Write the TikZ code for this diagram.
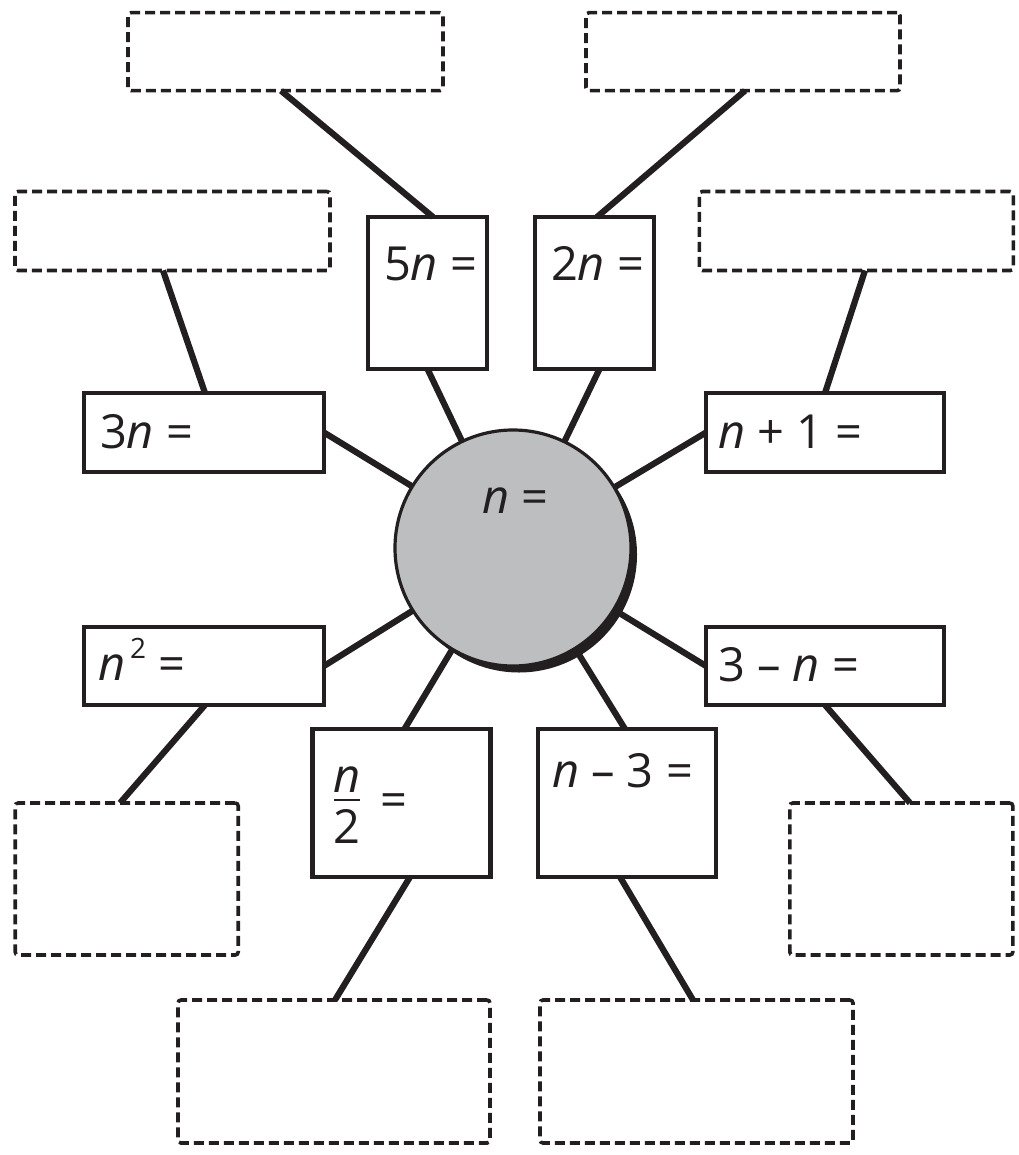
\documentclass[tikz,border=0pt]{standalone}
\usepackage{fontspec}
\setmainfont{Open Sans}
\usetikzlibrary{calc,shadows}
\definecolor{discgray}{HTML}{BCBEC0}
\definecolor{ink}{HTML}{231F20}
% fraction n over 2, baseline at the 2
\newcommand\nhalf{\vbox{\offinterlineskip
  \hbox to 26pt{\hss\textit{n}\hss}\kern6pt
  \hrule height 2.4pt\kern8pt
  \hbox to 26pt{\hss 2\hss}}}
\begin{document}
\begin{tikzpicture}[x=1pt,y=-1pt,
  every node/.style={inner sep=0pt,outer sep=0pt},
  solidbox/.style={draw=ink,line width=4.2pt,fill=white},
  dashbox/.style={draw=ink,line width=3.6pt,dash pattern=on 10pt off 5pt,rounded corners=3pt},
  link/.style={draw=ink,line width=6.2pt},
  lbl/.style={anchor=base west,text=ink,font=\fontsize{47}{56}\selectfont}]
\useasboundingbox (0,0) rectangle (1018,1155);

% outer answer boxes (dashed)
\node[dashbox,minimum width=315pt,minimum height=78pt] (dtl) at (285.5,51.7) {};
\node[dashbox,minimum width=314pt,minimum height=78pt] (dtr) at (743,51.7) {};
\node[dashbox,minimum width=315pt,minimum height=79pt] (dlt) at (172.5,231) {};
\node[dashbox,minimum width=314pt,minimum height=79pt] (drt) at (856.3,231) {};
\node[dashbox,minimum width=223pt,minimum height=152pt] (dll) at (126.7,879) {};
\node[dashbox,minimum width=223pt,minimum height=152pt] (dlr) at (901.3,879) {};
\node[dashbox,minimum width=312pt,minimum height=143pt] (dbl) at (334,1071.5) {};
\node[dashbox,minimum width=313pt,minimum height=143pt] (dbr) at (696.5,1071.5) {};

% central disc with its shadow
\node[circle,draw=ink,line width=3.2pt,fill=discgray,minimum size=236pt,
  drop shadow={shadow xshift=6pt,shadow yshift=-6.5pt,opacity=1,fill=ink}] (c) at (513,548) {};

% expression boxes
\node[solidbox,minimum width=119pt,minimum height=152pt] (b5) at (427.5,293) {};
\node[solidbox,minimum width=119pt,minimum height=152pt] (b2) at (594.5,293) {};
\node[solidbox,minimum width=240pt,minimum height=79pt] (b3) at (204,432.5) {};
\node[solidbox,minimum width=238pt,minimum height=79pt] (bp) at (825,432.5) {};
\node[solidbox,minimum width=240pt,minimum height=78pt] (bs) at (204,666) {};
\node[solidbox,minimum width=238pt,minimum height=78pt] (bm) at (825,666) {};
\node[solidbox,minimum width=178pt,minimum height=148pt] (bh) at (401.5,803) {};
\node[solidbox,minimum width=178pt,minimum height=148pt] (bt) at (627,803) {};

% connectors from the disc to the expression boxes
\draw[link] (b5.south) -- (c);
\draw[link] ($(b2.south)+(5,0)$) -- (c);
\draw[link] (b3.east) -- (c);
\draw[link] (bp.west) -- (c);
\draw[link] (bs.east) -- (c);
\draw[link] (bm.west) -- (c);
\draw[link] ($(bh.north)+(3,0)$) -- (c);
\draw[link] ($(bt.north)+(-2,0)$) -- (c);

% connectors from the expression boxes to the answer boxes
\draw[link] ($(dtl.south)+(-4.5,0)$) -- ($(b5.north)+(5.5,0)$);
\draw[link] ($(dtr.south)+(2,0)$) -- ($(b2.north)+(2.5,0)$);
\draw[link] ($(dlt.south)+(-9.5,0)$) -- ($(b3.north)+(1,0)$);
\draw[link] ($(drt.south)+(8.7,0)$) -- (bp.north);
\draw[link] ($(bs.south)+(1,0)$) -- ($(dll.north)+(-6.7,0)$);
\draw[link] (bm.south) -- ($(dlr.north)+(8.7,0)$);
\draw[link] ($(bh.south)+(8.5,0)$) -- ($(dbl.north)+(1,0)$);
\draw[link] ($(bt.south)+(-7,0)$) -- ($(dbr.north)+(-3.5,0)$);

% labels
\node[lbl] (tc) at (482,513) {\textit{n} =};
\node[lbl] (t5) at (384,280) {5\textit{n} =};
\node[lbl] (t2) at (551,280) {2\textit{n} =};
\node[lbl] (t3) at (100,448) {3\textit{n} =};
\node[lbl] (tp) at (718,448) {\textit{n} + 1 =};
\node[lbl] (ts) at (98,680) {\textit{n}\kern5pt\raisebox{22pt}{\fontsize{28}{34}\selectfont 2} =};
\node[lbl] (tm) at (718,681) {3 – \textit{n} =};
\node[lbl] (th) at (334,843) {\nhalf\kern20pt\raisebox{27pt}{=}};
\node[lbl] (tt) at (552,787) {\textit{n} – 3 =};
\end{tikzpicture}
\end{document}
